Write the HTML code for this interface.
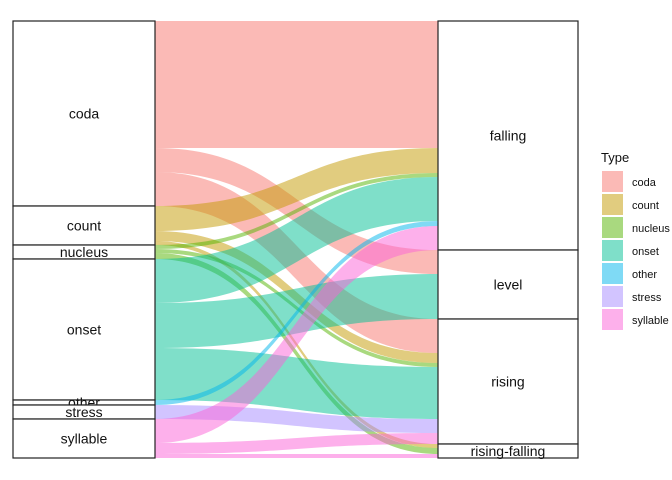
<!DOCTYPE html>
<html><head><meta charset="utf-8"><style>
body{margin:0;background:#fff;}
svg{display:block;font-family:"Liberation Sans",Arial,sans-serif;}
</style></head><body>
<svg id="chart" width="672" height="480"></svg>
<script>
const leftCats=["coda","count","nucleus","onset","other","stress","syllable"];
const rightCats=["falling","level","rising","rising-falling"];
const flowFrom=["coda","coda","coda","count","count","count","nucleus","nucleus","nucleus","onset","onset","onset","other","stress","syllable","syllable","syllable"];
const flowTo=["falling","level","rising","falling","rising","rising-falling","falling","rising","rising-falling","falling","level","rising","falling","rising","falling","rising","rising-falling"];
const flowVal=[127,24,34,25,10,4,4,4,6,44,45,52,5,14,24,11,4];
const colors={coda:"#F8766D",count:"#C49A00",nucleus:"#53B400",onset:"#00C094",other:"#00B6EB",stress:"#A58AFF",syllable:"#FB61D7"};

const NS="http://www.w3.org/2000/svg";
const svg=document.getElementById("chart");
function mk(t,a,p){const e=document.createElementNS(NS,t);for(const k in a)e.setAttribute(k,a[k]);(p||svg).appendChild(e);return e;}
const Y0=21,Y1=458,LX0=13,LX1=155,RX0=438,RX1=578;
const total=flowVal.reduce((a,b)=>a+b,0);
const sc=(Y1-Y0)/total;
function sum(c,key){let s=0;flowVal.forEach((v,i)=>{if((key==="from"?flowFrom:flowTo)[i]===c)s+=v;});return s;}
const lPos={},rPos={};let y=Y0;
leftCats.forEach(c=>{const h=sum(c,"from")*sc;lPos[c]=[y,y+h];y+=h;});
y=Y0;rightCats.forEach(c=>{const h=sum(c,"to")*sc;rPos[c]=[y,y+h];y+=h;});
const idx=flowVal.map((v,i)=>i);
const lStart={},rStart={};
const lOrd=idx.slice().sort((a,b)=>leftCats.indexOf(flowFrom[a])-leftCats.indexOf(flowFrom[b])||rightCats.indexOf(flowTo[a])-rightCats.indexOf(flowTo[b]));
const rOrd=idx.slice().sort((a,b)=>rightCats.indexOf(flowTo[a])-rightCats.indexOf(flowTo[b])||leftCats.indexOf(flowFrom[a])-leftCats.indexOf(flowFrom[b]));
let cur=Y0;lOrd.forEach(i=>{lStart[i]=cur;cur+=flowVal[i]*sc;});
cur=Y0;rOrd.forEach(i=>{rStart[i]=cur;cur+=flowVal[i]*sc;});
const g=mk("g",{});


const mx=(LX1+RX0)/2;
idx.forEach(i=>{
  const h=flowVal[i]*sc,a=lStart[i],b=rStart[i];
  const d=`M${LX1},${a} C${mx},${a} ${mx},${b} ${RX0},${b} L${RX0},${b+h} C${mx},${b+h} ${mx},${a+h} ${LX1},${a+h} Z`;
  const p=mk("path",{d:d,fill:colors[flowFrom[i]],"fill-opacity":0.5},g);
  
  
});
function strata(pos,x0,x1,side){
  for(const c in pos){
    const [a,b]=pos[c];
    const r=mk("rect",{x:x0,y:a,width:x1-x0,height:b-a,fill:"#fff",stroke:"#222","stroke-width":1.2});
    
    
    const t=mk("text",{x:(x0+x1)/2,y:(a+b)/2+5,"text-anchor":"middle","font-size":14,fill:"#111"});
    t.textContent=c;
    
    
  }
}
strata(lPos,LX0,LX1,"left");
strata(rPos,RX0,RX1,"right");
const lg=mk("g",{});


const lt=mk("text",{x:601,y:162,"font-size":13,fill:"#111"},lg);lt.textContent="Type";


leftCats.forEach((c,k)=>{
  const yy=171+k*23;
  const r=mk("rect",{x:602,y:yy,width:21,height:21,fill:colors[c],"fill-opacity":0.5},lg);
  
  
  const t=mk("text",{x:632,y:yy+15,"font-size":11,fill:"#111"},lg);t.textContent=c;
  
  
});
</script>
</body></html>
